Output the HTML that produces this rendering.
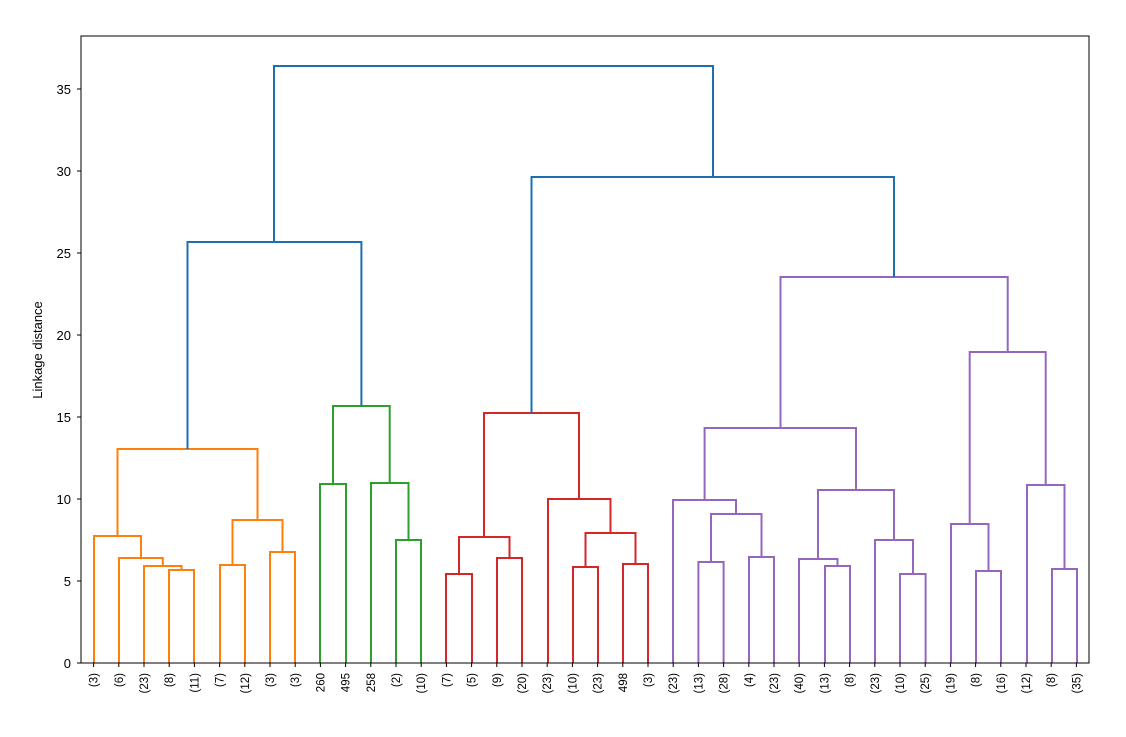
<!DOCTYPE html>
<html><head><style>body{margin:0;background:#fff}svg{display:block;font-family:"Liberation Sans","DejaVu Sans",sans-serif}</style></head>
<body>
<svg width="1126" height="737" viewBox="0 0 1126 737" xmlns="http://www.w3.org/2000/svg">
<g fill="none" stroke-width="2">
<g stroke="#ff7f0e">
<path d="M169 663V570H194V663"/>
<path d="M144 663V566H181.5V570"/>
<path d="M119 663V558H162.8V566"/>
<path d="M94 663V536H141V558"/>
<path d="M220 663V565H245V663"/>
<path d="M270 663V552H295V663"/>
<path d="M232.5 565V520H282.5V552"/>
<path d="M117.5 536V449H257.5V520"/>
</g>
<g stroke="#2ca02c">
<path d="M320 663V484H346V663"/>
<path d="M396 663V540H421V663"/>
<path d="M371 663V483H408.5V540"/>
<path d="M333 484V406H389.7V483"/>
</g>
<g stroke="#d62728">
<path d="M446 663V574H472V663"/>
<path d="M497 663V558H522V663"/>
<path d="M459 574V537H509.5V558"/>
<path d="M573 663V567H598V663"/>
<path d="M623 663V564H648V663"/>
<path d="M585.5 567V533H635.5V564"/>
<path d="M548 663V499H610.5V533"/>
<path d="M484 537V413H579V499"/>
</g>
<g stroke="#9467bd">
<path d="M698.4 663V562H723.6V663"/>
<path d="M749 663V557H774V663"/>
<path d="M711 562V514H761.5V557"/>
<path d="M673 663V500H736V514"/>
<path d="M825 663V566H850V663"/>
<path d="M799 663V559H837.5V566"/>
<path d="M900 663V574H925.6V663"/>
<path d="M875 663V540H913V574"/>
<path d="M818 559V490H894V540"/>
<path d="M704.6 500V428H856V490"/>
<path d="M976 663V571H1001V663"/>
<path d="M951 663V524H988.5V571"/>
<path d="M1052 663V569H1077V663"/>
<path d="M1027 663V485H1064.5V569"/>
<path d="M969.7 524V352H1045.7V485"/>
<path d="M780.5 428V277H1007.7V352"/>
</g>
<g stroke="#1f6fb0">
<path d="M187.5 449V242H361.4V406"/>
<path d="M274 242V66H713V177"/>
<path d="M531.5 413V177H894V277"/>
</g>
</g>
<rect x="81" y="36" width="1008" height="627" fill="none" stroke="#000" stroke-width="1"/>
<g stroke="#000" stroke-width="1">
<path d="M81 663h-4M81 581h-4M81 499h-4M81 417h-4M81 335h-4M81 253h-4M81 171h-4M81 89h-4"/>
</g>
<g font-size="13" text-anchor="end" fill="#000">
<text x="71" y="668">0</text><text x="71" y="586">5</text><text x="71" y="504">10</text><text x="71" y="422">15</text><text x="71" y="340">20</text><text x="71" y="258">25</text><text x="71" y="176">30</text><text x="71" y="94">35</text>
</g>
<text x="42" y="350" font-size="13" text-anchor="middle" transform="rotate(-90 42 350)">Linkage distance</text>
<g id="ticks" stroke="#000" stroke-width="1"></g>
<g font-size="11.5" fill="#000" text-anchor="end" id="lbls"></g>
<script>
var L=["(3)","(6)","(23)","(8)","(11)","(7)","(12)","(3)","(3)","260","495","258","(2)","(10)","(7)","(5)","(9)","(20)","(23)","(10)","(23)","498","(3)","(23)","(13)","(28)","(4)","(23)","(40)","(13)","(8)","(23)","(10)","(25)","(19)","(8)","(16)","(12)","(8)","(35)"];
var ns="http://www.w3.org/2000/svg",g=document.getElementById("lbls"),t=document.getElementById("ticks");
for(var i=0;i<40;i++){var x=93.6+25.2*i;
var l=document.createElementNS(ns,"line");l.setAttribute("x1",x);l.setAttribute("x2",x);l.setAttribute("y1",663);l.setAttribute("y2",667);t.appendChild(l);
var e=document.createElementNS(ns,"text");e.setAttribute("transform","translate("+(x+4)+",673) rotate(-90)");e.textContent=L[i];g.appendChild(e);}
</script>
</svg>
</body></html>
